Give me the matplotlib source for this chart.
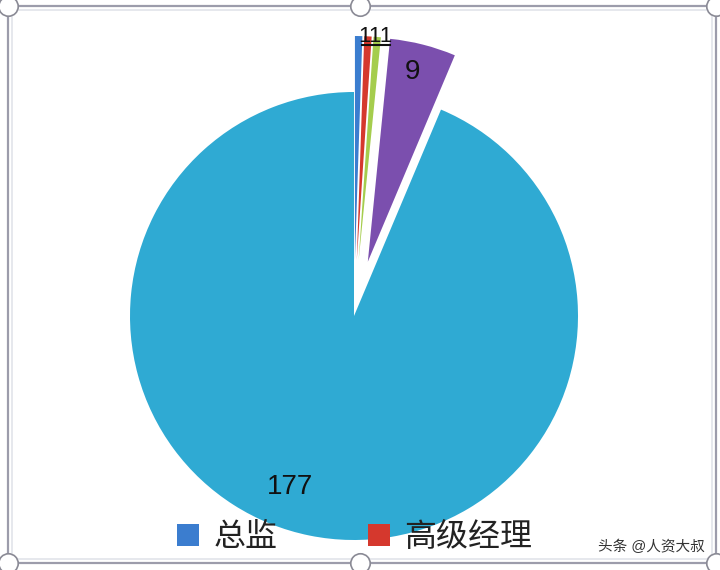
import matplotlib.pyplot as plt
from matplotlib.patches import Patch

plt.rcParams['font.family'] = ['Liberation Sans', 'Noto Sans CJK SC', 'DejaVu Sans']

# 数据
categorias = ['总监', '高级经理', '经理', '主管', '员工']
valores = [1, 1, 1, 9, 177]
colores = ['#3b7dcf', '#d5382d', '#a5cd4d', '#7b4fae', '#2faad3']
separacion = [0.25, 0.25, 0.25, 0.25, 0.0]

W, H = 720, 570
fig = plt.figure(figsize=(W / 100, H / 100), dpi=100)
ax = fig.add_axes([0, 0, 1, 1])

# centro del pastel en pixeles y radio
cx, cy, r = 354, 316, 224

wedges, _ = ax.pie(valores, colors=colores, explode=separacion, startangle=90,
                   counterclock=False, radius=1.0,
                   wedgeprops=dict(edgecolor='none'))
ax.set_aspect('auto')
ax.set_xlim(-cx / r, (W - cx) / r)
ax.set_ylim(-(H - cy) / r, cy / r)
ax.axis('off')


def px(x, y):
    # pixeles (origen arriba a la izquierda) -> coordenadas de datos
    return (x - cx) / r, (cy - y) / r


# etiquetas de valores (las tres pequeñas quedan pegadas)
ax.text(*px(375, 36), ''.join(str(v) for v in valores[:3]), fontsize=16,
        ha='center', va='center', color='#111111')
x0, y0 = px(362, 45)
x1, _ = px(390, 45)
ax.plot([x0, x1], [y0, y0], color='#111111', lw=1.5)
ax.text(*px(412, 72), str(valores[3]), fontsize=20, ha='center', va='center', color='#111111')
ax.text(*px(290, 487), str(valores[4]), fontsize=20, ha='center', va='center', color='#111111')

# leyenda (solo se ven las dos primeras entradas)
handles = [Patch(facecolor=colores[i], edgecolor='none') for i in range(2)]
leg = fig.legend(handles, categorias[:2], ncol=2, loc='center left',
                 bbox_to_anchor=(177 / W, 1 - 538 / H), frameon=False,
                 fontsize=23, handlelength=0.68, handleheight=0.68,
                 handletextpad=0.45, columnspacing=2.85, borderpad=0,
                 borderaxespad=0)
for t in leg.get_texts():
    t.set_color('#222222')

# marca de agua
fig.text(598 / W, 1 - 547 / H, '头条 @人资大叔', fontsize=10.5, color='#333333',
         va='center', ha='left')

# marco de selección
izq, der, arr, aba = 8 / W, 716 / W, 1 - 6 / H, 1 - 563 / H
ax.plot([izq, der, der, izq, izq], [arr, arr, aba, aba, arr], color='#9c9cab',
        lw=1.6, transform=ax.transAxes, clip_on=False)
ax.plot([izq + 4 / W, der - 4 / W, der - 4 / W, izq + 4 / W, izq + 4 / W],
        [arr - 4 / H, arr - 4 / H, aba + 4 / H, aba + 4 / H, arr - 4 / H],
        color='#e2e4ea', lw=1.2, transform=ax.transAxes, clip_on=False)
manijas_x = [izq, 360 / W, der, izq, 360 / W, der]
manijas_y = [arr, arr, arr, aba, aba, aba]
ax.plot(manijas_x, manijas_y, 'o', ms=14, mfc='white', mec='#8a8a95', mew=1.2,
        transform=ax.transAxes, clip_on=False)

fig.savefig('out.png', dpi=100)
